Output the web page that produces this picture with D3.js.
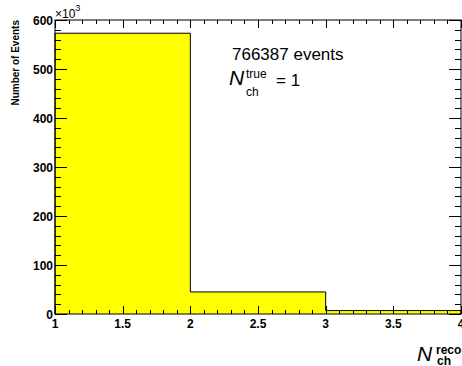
<!DOCTYPE html>
<html>
<head>
<meta charset="utf-8">
<script src="https://cdn.jsdelivr.net/npm/d3@7"></script>
<style>
  body { margin: 0; background: #fff; }
  svg { display: block; }
  text { font-family: "Liberation Sans", Arial, sans-serif; }
</style>
</head>
<body>
<svg id="chart" width="462" height="366"></svg>
<script>
// Histogram bins (lower edges) and contents, in units of 10^3
const binEdges = [1, 2, 3, 4];
const binCounts = [573, 45, 7];
const xTicks = [1, 1.5, 2, 2.5, 3, 3.5, 4];
const xTickLabels = ["1", "1.5", "2", "2.5", "3", "3.5", "4"];
const yTicks = [0, 100, 200, 300, 400, 500, 600];

const svg = d3.select("#chart");
const margin = { left: 55, right: 1, top: 20, bottom: 52 };
const width = 462, height = 366;

const x = d3.scaleLinear().domain([1, 4]).range([margin.left, width - margin.right]);
const y = d3.scaleLinear().domain([0, 600]).range([height - margin.bottom, margin.top]);

// filled histogram as a step path
let pts = [[binEdges[0], 0]];
binCounts.forEach((c, i) => {
    pts.push([binEdges[i], c]);
    pts.push([binEdges[i + 1], c]);
});
pts.push([binEdges[binEdges.length - 1], 0]);

const line = d3.line().x(d => x(d[0])).y(d => y(d[1]));
svg.append("path")
    .attr("d", line(pts))
    .attr("fill", "#ffff00")
    .attr("stroke", "#000")
    .attr("stroke-width", 1);

// frame
svg.append("rect")
    .attr("x", x(1)).attr("y", y(600))
    .attr("width", x(4) - x(1)).attr("height", y(0) - y(600))
    .attr("fill", "none").attr("stroke", "#000").attr("stroke-width", 1);

const ticks = svg.append("g").attr("stroke", "#000").attr("stroke-width", 1);

// x ticks (bottom and top)
d3.range(1, 4.001, 0.1).forEach(v => {
    const major = Math.abs(v * 2 - Math.round(v * 2)) < 1e-6;
    const len = major ? 8 : 4;
    const px = Math.round(x(v)) + 0.5;
    ticks.append("line").attr("x1", px).attr("x2", px)
        .attr("y1", y(0)).attr("y2", y(0) - len);
    ticks.append("line").attr("x1", px).attr("x2", px)
        .attr("y1", y(600)).attr("y2", y(600) + len);
});

// y ticks (left and right)
d3.range(0, 600.001, 20).forEach(v => {
    const major = v % 100 === 0;
    const len = major ? 12 : 6;
    const py = Math.round(y(v)) + 0.5;
    ticks.append("line").attr("x1", x(1)).attr("x2", x(1) + len)
        .attr("y1", py).attr("y2", py);
    ticks.append("line").attr("x1", x(4)).attr("x2", x(4) - len)
        .attr("y1", py).attr("y2", py);
});

// tick labels
svg.append("g").selectAll("text").data(xTicks).join("text")
    .attr("x", d => x(d)).attr("y", y(0) + 14)
    .attr("text-anchor", "middle")
    .attr("font-size", 12).attr("font-weight", "bold")
    .text((d, i) => xTickLabels[i]);

svg.append("g").selectAll("text").data(yTicks).join("text")
    .attr("x", x(1) - 2).attr("y", d => y(d) + 4.5)
    .attr("text-anchor", "end")
    .attr("font-size", 12).attr("font-weight", "bold")
    .text(d => d);

// x10^3 exponent
const exp = svg.append("text").attr("x", x(1)).attr("y", 18)
    .attr("font-size", 12);
exp.append("tspan").text("\u00d710");
exp.append("tspan").attr("dy", -7).attr("font-size", 9).text("3");

// y title
svg.append("text")
    .attr("transform", `translate(19,${margin.top}) rotate(-90)`)
    .attr("text-anchor", "end")
    .attr("font-size", 10).attr("font-weight", "bold")
    .text("Number of Events");

// x title: N_ch^reco
const xt = svg.append("g").attr("transform", "translate(417,361)");
xt.append("text").attr("x", 0).attr("y", 0)
    .attr("font-family", "Liberation Serif, serif").attr("font-style", "italic")
    .attr("font-size", 21).text("N");
xt.append("text").attr("x", 19).attr("y", -7)
    .attr("font-size", 12).attr("font-weight", "bold").text("reco");
xt.append("text").attr("x", 20).attr("y", 4)
    .attr("font-size", 12).attr("font-weight", "bold").text("ch");

// annotation
svg.append("text").attr("x", 232).attr("y", 60)
    .attr("font-size", 17).text("766387 events");
const ann = svg.append("g").attr("transform", "translate(229,85)");
ann.append("text").attr("x", 0).attr("y", 0)
    .attr("font-family", "Liberation Serif, serif").attr("font-style", "italic")
    .attr("font-size", 21).text("N");
ann.append("text").attr("x", 17).attr("y", -7)
    .attr("font-size", 12).text("true");
ann.append("text").attr("x", 17).attr("y", 11)
    .attr("font-size", 12).text("ch");
ann.append("text").attr("x", 47).attr("y", 1)
    .attr("font-size", 17).text("= 1");
</script>
</body>
</html>
